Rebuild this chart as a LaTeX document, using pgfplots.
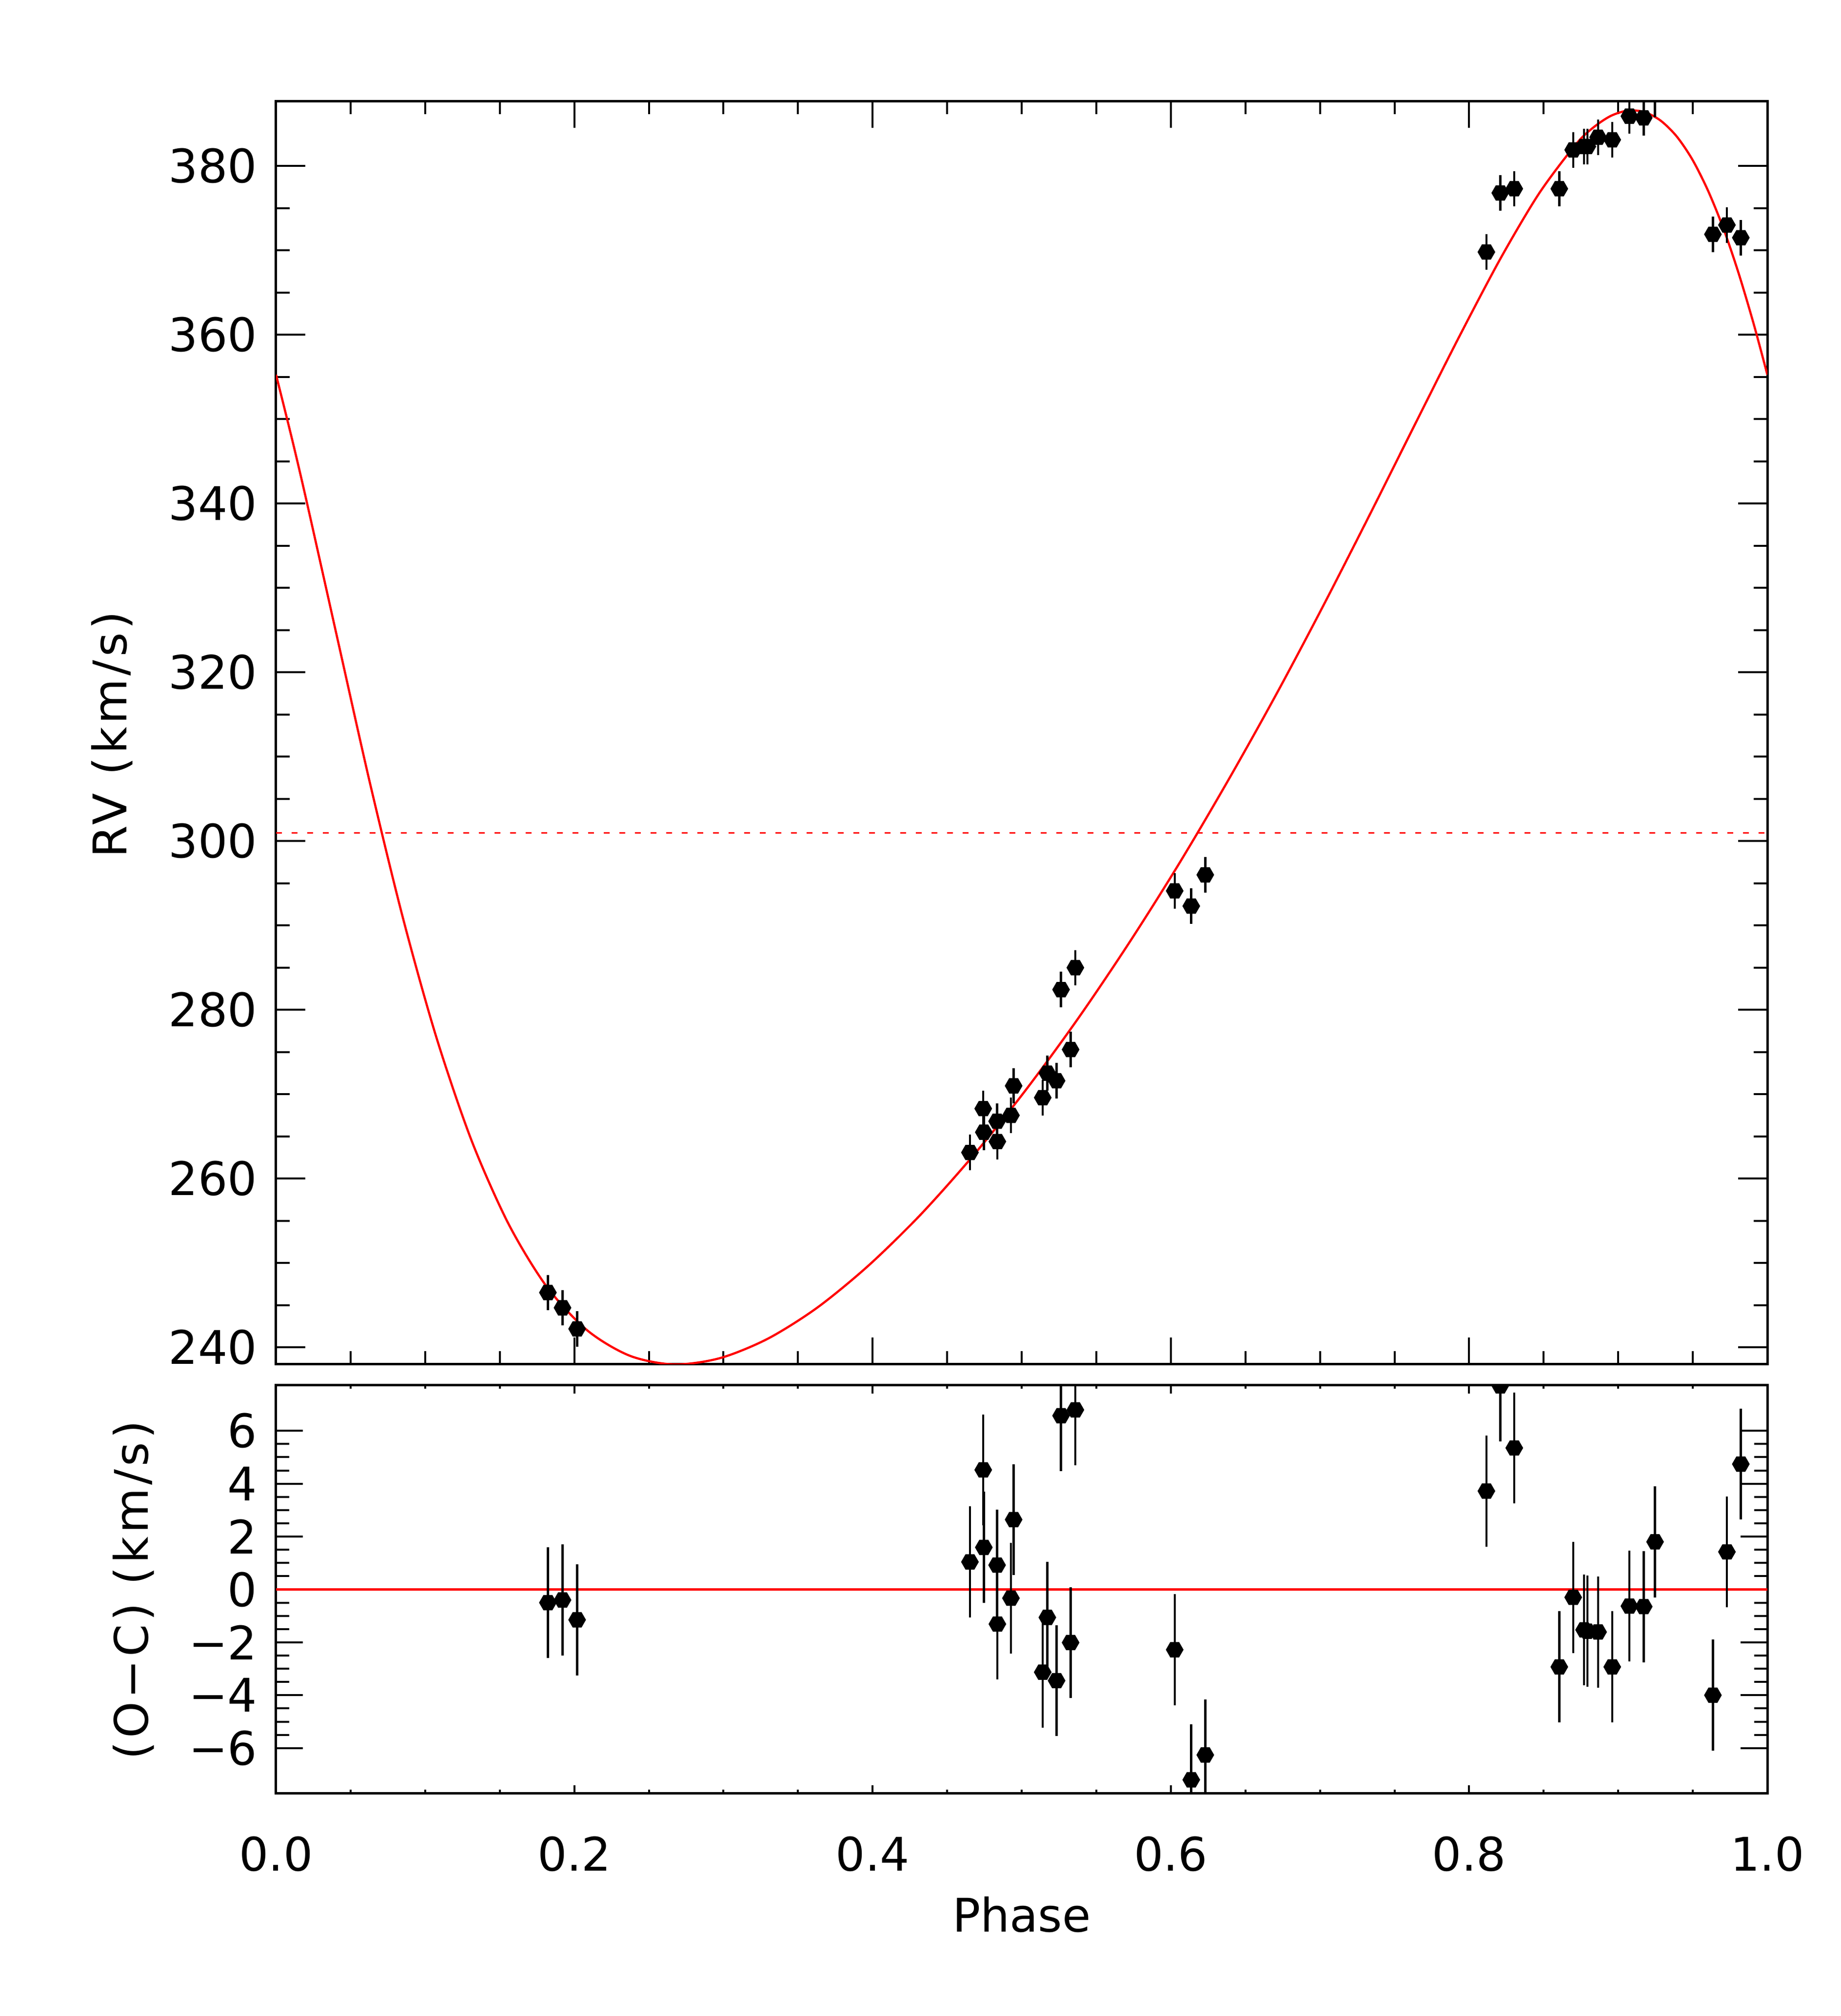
\documentclass[border=0pt]{standalone}
\usepackage{fontspec}
\setmainfont{DejaVu Sans}
\newfontfamily\titlefont[LetterSpace=7]{DejaVu Sans}
\usepackage{pgfplots}
\usepackage{pgfplotstable}
\pgfplotsset{compat=1.18}

\pgfdeclareplotmark{hex*}{%
  \pgfpathmoveto{\pgfqpointpolar{0}{\pgfplotmarksize}}%
  \pgfpathlineto{\pgfqpointpolar{60}{\pgfplotmarksize}}%
  \pgfpathlineto{\pgfqpointpolar{120}{\pgfplotmarksize}}%
  \pgfpathlineto{\pgfqpointpolar{180}{\pgfplotmarksize}}%
  \pgfpathlineto{\pgfqpointpolar{240}{\pgfplotmarksize}}%
  \pgfpathlineto{\pgfqpointpolar{300}{\pgfplotmarksize}}%
  \pgfpathclose
  \pgfusepathqfillstroke
}

\pgfplotstableread{
phase rv err res
0.1823 246.5 2.1 -0.50
0.1921 244.7 2.1 -0.40
0.2019 242.2 2.1 -1.15
0.4653 263.1 2.1 1.04
0.4742 268.3 2.1 4.52
0.4746 265.5 2.1 1.59
0.4835 266.8 2.1 0.92
0.4837 264.4 2.1 -1.31
0.4928 267.5 2.1 -0.33
0.4946 271.0 2.1 2.64
0.5141 269.6 2.1 -3.13
0.5172 272.5 2.1 -1.06
0.5234 271.6 2.1 -3.45
0.5264 282.4 2.1 6.57
0.5328 275.3 2.1 -2.01
0.5360 285.0 2.1 6.79
0.6026 294.1 2.1 -2.28
0.6137 292.3 2.1 -7.20
0.6231 296.0 2.1 -6.26
0.8116 369.8 2.1 3.72
0.8209 376.8 2.1 7.70
0.8303 377.3 2.1 5.35
0.8605 377.3 2.1 -2.93
0.8698 381.9 2.1 -0.30
0.8771 382.3 2.1 -1.53
0.8793 382.3 2.1 -1.58
0.8865 383.4 2.1 -1.61
0.8960 383.1 2.1 -2.93
0.9075 385.9 2.1 -0.63
0.9171 385.7 2.1 -0.65
0.9247 387.9 2.1 1.80
0.9635 371.9 2.1 -4.00
0.9729 373.0 2.1 1.42
0.9822 371.5 2.1 4.74
}\obsdata

\pgfplotstableread{
phase model
0.0000 355.26
0.0114 347.15
0.0216 339.42
0.0422 323.17
0.0632 306.72
0.0849 291.02
0.1074 276.81
0.1309 264.62
0.1556 254.74
0.1814 247.23
0.2086 242.04
0.2370 239.03
0.2667 237.99
0.2976 238.73
0.3296 241.02
0.3627 244.69
0.3965 249.58
0.4311 255.53
0.4660 262.42
0.5012 270.15
0.5364 278.62
0.5713 287.74
0.6059 297.43
0.6397 307.58
0.6728 318.07
0.7048 328.77
0.7357 339.49
0.7654 349.98
0.7939 359.95
0.8210 369.01
0.8468 376.71
0.8715 382.54
0.8834 384.57
0.8950 385.93
0.9064 386.56
0.9175 386.39
0.9284 385.38
0.9392 383.50
0.9498 380.73
0.9602 377.08
0.9706 372.57
0.9808 367.24
0.9910 361.17
1.0000 355.26
}\modeldata

\pgfplotsset{
  rvbase/.style={
    scale only axis,
    anchor=south west,
    width=305.8pt,
    xmin=0, xmax=1,
    xtick={0,0.2,0.4,0.6,0.8,1},
    minor x tick num=3, minor y tick num=3,
    tick align=inside, tick pos=both,
    line width=0.5pt,
    tick style={line width=0.4pt, black},
    clip marker paths=true,
    yticklabel style={xshift=-0.3pt},
  },
  obsstyle/.style={
    only marks, mark=hex*, mark size=1.7pt, black,
    mark options={fill=black, draw=black, line width=0.2pt},
    error bars/y dir=both, error bars/y explicit, error bars/error mark=none,
    error bars/error bar style={line width=0.45pt, black},
  },
}

\begin{document}
\begin{tikzpicture}[font=\fontsize{9.5}{11.4}\selectfont]
\path[use as bounding box] (0,0) rectangle (377.5pt,413.3pt);

\begin{axis}[rvbase,
  at={(56.6pt,133.6pt)},
  height=259pt,
  ymin=238, ymax=387.7,
  xticklabels={},
  ytick={240,260,280,300,320,340,360,380},
  yticklabels={240,260,280,300,320,340,360,380},
  xtick style={/pgfplots/major tick length=5.5pt,/pgfplots/minor tick length=2.7pt},
  ytick style={/pgfplots/major tick length=6pt,/pgfplots/minor tick length=2.8pt},
]
\addplot[red, line width=0.3pt, dash pattern=on 1.2pt off 2.0pt] coordinates {(0,301.0) (1,301.0)};
\addplot[red, line width=0.45pt, smooth, no markers] table[x=phase,y=model] {\modeldata};
\addplot[obsstyle] table[x=phase, y=rv, y error=err] {\obsdata};
\end{axis}

\begin{axis}[rvbase,
  at={(56.6pt,45.6pt)},
  height=83.7pt,
  ymin=-7.72, ymax=7.72,
  xticklabels={0.0,0.2,0.4,0.6,0.8,1.0},
  xticklabel style={yshift=-5.2pt},
  ytick={-6,-4,-2,0,2,4,6},
  yticklabels={−6,−4,−2,0,2,4,6},
  xtick style={/pgfplots/major tick length=1.7pt,/pgfplots/minor tick length=0.75pt},
  ytick style={/pgfplots/major tick length=5.5pt,/pgfplots/minor tick length=2.7pt},
]
\addplot[red, line width=0.45pt, no markers] coordinates {(0,0) (1,0)};
\addplot[obsstyle] table[x=phase, y=res, y error=err] {\obsdata};
\end{axis}

\node[anchor=base] at (209.5pt,17.2pt) {Phase};
\node[rotate=90] at (23.0pt,262.7pt) {\titlefont RV (km/s)};
\node[rotate=90] at (27.4pt,87.3pt) {\titlefont (O−C) (km/s)};
\end{tikzpicture}
\end{document}
